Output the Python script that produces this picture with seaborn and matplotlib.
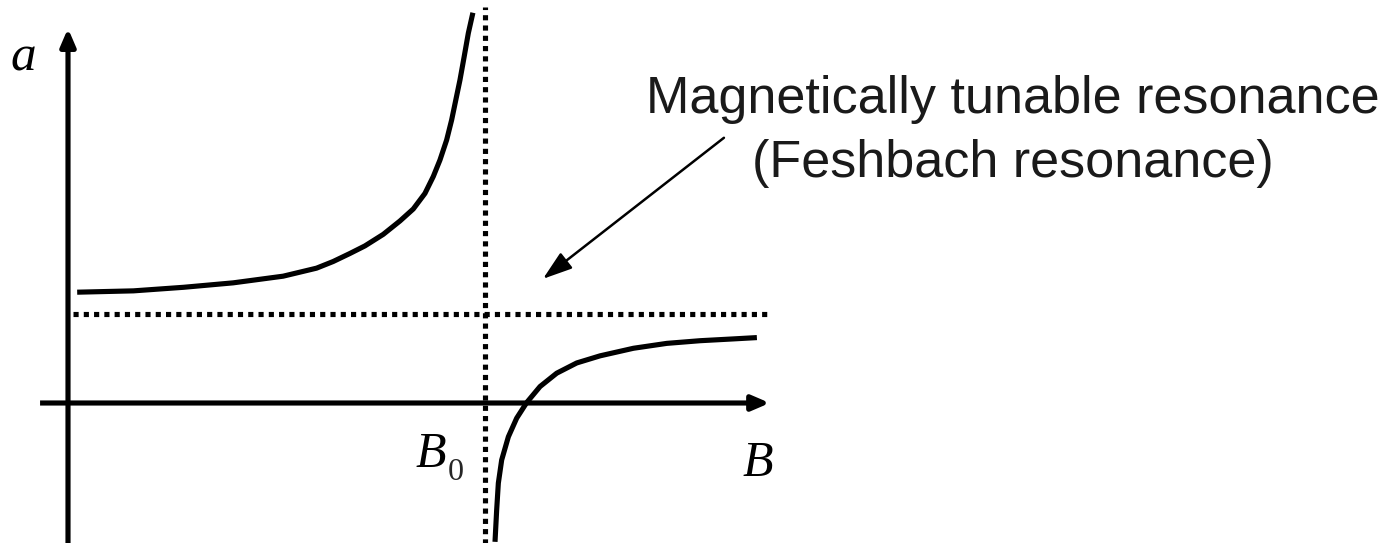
import matplotlib
matplotlib.use('Agg')
import matplotlib.pyplot as plt
import numpy as np
import pandas as pd
import seaborn as sns

# Feshbach resonance sketch: scattering length a vs magnetic field B
# units: B0 = 10, background scattering length a_bg = 2
B0 = 10.0
A_BG = 2.0

# branch below resonance (B < B0)
upper_B = [0.22, 1.57, 2.77, 3.96, 5.16, 5.96, 6.36, 6.76, 7.12, 7.56, 7.96,
           8.28, 8.56, 8.76, 8.92, 9.08, 9.20, 9.30, 9.40, 9.50, 9.60, 9.71]
upper_a = [2.49, 2.52, 2.60, 2.70, 2.85, 3.03, 3.18, 3.36, 3.53, 3.79, 4.09,
           4.36, 4.71, 5.09, 5.46, 5.91, 6.36, 6.81, 7.26, 7.78, 8.31, 8.77]

# branch above resonance (B > B0)
lower_B = [10.24, 10.28, 10.32, 10.40, 10.56, 10.76, 11.00, 11.32, 11.72,
           12.20, 12.76, 13.56, 14.36, 15.16, 15.95, 16.52]
lower_a = [-3.12, -2.40, -1.80, -1.28, -0.76, -0.34, 0.01, 0.37, 0.67,
           0.90, 1.06, 1.23, 1.34, 1.40, 1.44, 1.47]

label_line1 = 'Magnetically tunable resonance'
label_line2 = '(Feshbach resonance)'

sns.set_style('white')
plt.rcParams['font.family'] = ['Liberation Sans', 'DejaVu Sans']

fig = plt.figure(figsize=(13.96, 5.43), dpi=100)
ax = fig.add_axes([0, 0, 1, 1])

df = pd.concat([
    pd.DataFrame({'B': upper_B, 'a': upper_a, 'branch': 'below'}),
    pd.DataFrame({'B': lower_B, 'a': lower_a, 'branch': 'above'}),
])
sns.lineplot(data=df, x='B', y='a', units='branch', estimator=None,
             sort=False, color='black', lw=3.7, ax=ax,
             solid_capstyle='butt', solid_joinstyle='round')

# pixel scale of the sketch: 41.7 px per B unit, 44.5 px per a unit
ax.set_xlim(-68 / 41.7, (1396 - 68) / 41.7)
ax.set_ylim(-(543 - 403) / 44.5, 403 / 44.5)
ax.axis('off')

# asymptotes
dot = dict(color='black', lw=3.7, linestyle=(0, (1.0, 1.0)),
           dash_capstyle='butt')
ax.plot([0.12, 16.79], [A_BG, A_BG], **dot)
ax.plot([B0, B0], [-3.2, 8.9], **dot)

# axes with arrow heads
ax_arrow = dict(arrowstyle='-|>,head_length=0.42,head_width=0.18',
                color='black', lw=3.7, mutation_scale=25,
                shrinkA=0, shrinkB=0, capstyle='butt')
ax.annotate('', xy=(16.83, 0), xytext=(-0.67, 0), arrowprops=ax_arrow)
ax.annotate('', xy=(0, 8.42), xytext=(0, -3.2), arrowprops=ax_arrow)

# axis labels
serif = dict(family='Liberation Serif', style='italic', color='black',
             va='baseline', ha='center')
ax.text(-1.08, 7.48, 'a', fontsize=37, **serif)
ax.text(16.55, -1.64, 'B', fontsize=36, **serif)
ax.text(8.70, -1.44, 'B', fontsize=36, **serif)
ax.text(9.30, -1.73, '0', fontsize=23, family='Liberation Serif',
        va='baseline', ha='center')

# annotation
txt = dict(fontsize=37.5, color='#1a1a1a', ha='center', va='baseline')
ax.text(22.66, 6.52, label_line1, **txt)
ax.text(22.65, 5.08, label_line2, **txt)
ax.annotate('', xy=(11.39, 2.79), xytext=(15.73, 5.96),
            arrowprops=dict(arrowstyle='-|>,head_length=0.9,head_width=0.3',
                            color='black', lw=1.8, mutation_scale=20,
                            shrinkA=0, shrinkB=0))

fig.savefig('out.png', dpi=100)
